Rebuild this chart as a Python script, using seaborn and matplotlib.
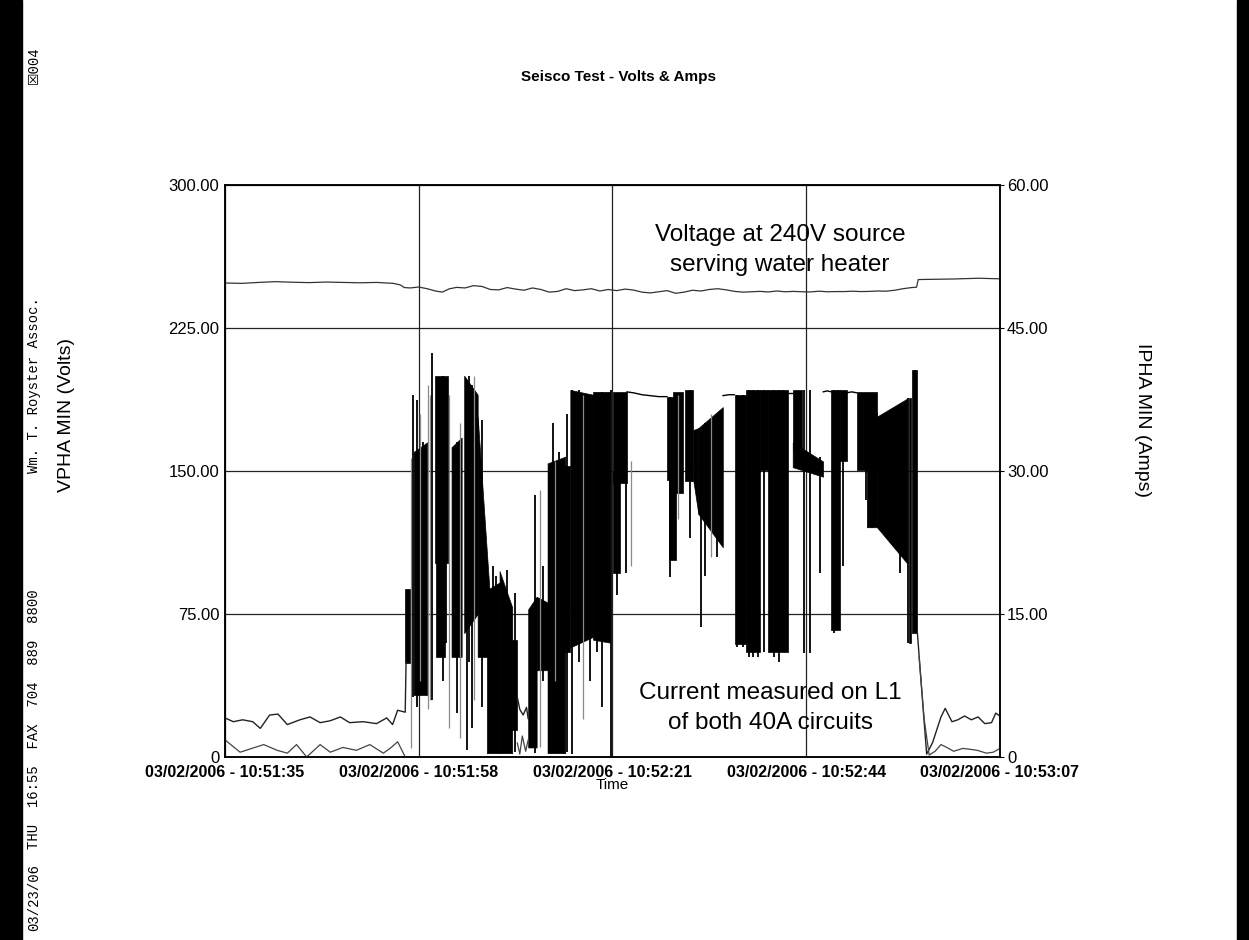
import numpy as np
import pandas as pd
import seaborn as sns
import matplotlib.pyplot as plt
from matplotlib.patches import Rectangle

# time axis: seconds after 03/02/2006 10:51:35
tick_sec = [0, 23, 46, 69, 92]
tick_labels = ["03/02/2006 - 10:51:35", "03/02/2006 - 10:51:58", "03/02/2006 - 10:52:21",
               "03/02/2006 - 10:52:44", "03/02/2006 - 10:53:07"]
volt_ticks = [0, 75, 150, 225, 300]
volt_tick_labels = ["0", "75.00", "150.00", "225.00", "300.00"]
amp_ticks = [0, 15, 30, 45, 60]
amp_tick_labels = ["0", "15.00", "30.00", "45.00", "60.00"]

# VPHA MIN (Volts)
volt_t = [0, 2, 4, 6, 8, 10, 12, 14, 16, 18, 20, 20.8, 21.3, 22.0, 23.0, 24.0, 25.0, 25.8,
          26.6, 27.5, 28.5, 29.5, 30.5, 31.5, 32.5, 33.5, 34.5, 35.5, 36.5, 37.5, 38.5, 39.5,
          40.5, 41.5, 42.5, 43.5, 44.5, 45.5, 46.5, 47.5, 48.5, 49.5, 50.5, 51.5, 52.5, 53.5,
          54.5, 55.5, 56.5, 57.5, 58.5, 59.5, 60.5, 61.5, 62.5, 63.5, 64.5, 65.5, 66.5, 67.5,
          68.5, 69.5, 70.5, 71.5, 72.5, 73.5, 74.5, 75.5, 76.5, 77.5, 78.5, 79.5, 80.5, 81.5,
          82.1, 82.3, 83.5, 85, 86.5, 88, 89.5, 91, 92]
volt_v = [248.6, 248.4, 248.9, 249.3, 249.0, 248.8, 249.1, 248.9, 248.7, 248.9, 248.4, 247.6,
          246.2, 246.0, 246.5, 245.6, 244.4, 243.8, 245.5, 246.3, 246.0, 247.2, 246.8, 245.2,
          245.0, 246.2, 245.4, 244.8, 246.0, 245.2, 243.8, 244.2, 245.6, 244.6, 245.0, 245.6,
          244.4, 245.2, 244.6, 245.4, 244.9, 243.8, 243.4, 244.0, 244.6, 243.2, 243.8, 244.8,
          244.4, 245.2, 245.6, 245.0, 244.2, 243.8, 244.0, 244.2, 243.9, 244.4, 244.0, 244.2,
          244.0, 243.9, 244.3, 244.0, 244.1, 244.1, 244.3, 244.1, 244.2, 244.4, 244.3, 244.8,
          245.6, 246.2, 246.4, 250.4, 250.5, 250.6, 250.7, 250.9, 251.1, 250.9, 250.8]

# IPHA MIN (Amps) - idle traces (upper and lower), by segment
idle_hi_t = [0, 1.0, 2.1, 3.3, 4.2, 5.3, 6.3, 7.4, 8.9, 10.1, 11.3, 12.5, 13.7, 14.8, 16.4,
             18.0, 19.2, 19.9, 20.5, 21.4, 21.5,
             34.7, 35.0, 35.4, 35.8, 36.0,
             82.2, 82.8, 83.3, 84.0, 85.0, 85.5, 86.3, 87.0, 87.8, 88.6, 89.4, 90.2, 91.0,
             91.5, 92.0]
idle_hi_a = [4.1, 3.7, 3.9, 3.7, 3.0, 4.4, 4.5, 3.4, 3.9, 4.2, 3.6, 3.8, 4.2, 3.6, 3.7,
             3.5, 4.1, 3.4, 4.9, 4.7, 10.0,
             6.3, 5.0, 4.4, 5.2, 4.0,
             13.0, 6.0, 0.3, 1.5, 4.2, 5.1, 3.7, 3.9, 4.3, 3.9, 4.2, 3.5, 3.6, 4.6, 4.3]
idle_hi_seg = [0] * 21 + [1] * 5 + [2] * 15

idle_lo_t = [0, 1.8, 3.2, 4.6, 6.2, 7.4, 8.5, 9.7, 11.3, 12.5, 14.0, 15.6, 17.2, 18.8, 19.6,
             20.5, 21.4,
             34.7, 35.0, 35.3, 35.7, 36.0,
             82.4, 83.0, 83.6, 84.3, 85.0, 85.7, 86.5, 87.6, 88.5, 89.3, 90.4, 91.2, 92.0]
idle_lo_a = [1.8, 0.5, 0.9, 1.3, 0.7, 0.4, 1.3, 0.0, 1.3, 0.5, 1.0, 0.7, 1.3, 0.4, 0.9,
             1.6, 0.0,
             1.5, 0.3, 2.2, 0.6, 1.8,
             10.5, 4.0, 0.2, 0.6, 1.3, 1.0, 0.6, 0.9, 0.8, 0.7, 0.4, 0.5, 0.9]
idle_lo_seg = [0] * 17 + [1] * 5 + [2] * 13

# loaded plateau around 38 A between bursts
plat_t = [47.7, 48.5, 49.5, 50.5, 51.5, 52.5, 59.1, 59.8, 60.5, 66.8, 67.4,
          71.0, 71.5, 72.0, 73.8, 74.4, 75.0]
plat_a = [38.3, 38.2, 38.0, 37.9, 37.8, 37.8, 37.9, 38.0, 38.0, 38.2, 38.2,
          38.3, 38.4, 38.3, 38.2, 38.3, 38.2]
plat_seg = [0] * 6 + [1] * 3 + [2] * 2 + [3] * 3 + [4] * 3

# dense switching bursts (envelope of the fast oscillation)
burst_t0 = [21.4, 22.4, 24.9, 25.1, 26.9, 28.4, 30.0, 31.1, 32.6, 34.1, 36.0, 37.0, 38.3,
            40.4, 41.0, 43.7, 46.1, 46.1, 52.5, 52.7, 53.2, 54.6, 55.6, 56.2, 60.5, 61.9,
            63.5, 64.5, 67.4, 67.4, 72.0, 73.0, 75.0, 76.2, 77.4, 81.2, 81.6]
burst_t1 = [22.0, 24.0, 26.5, 26.1, 28.1, 30.0, 31.4, 32.6, 34.1, 34.7, 37.0, 38.3, 40.4,
            41.0, 43.7, 45.7, 47.7, 46.9, 53.2, 53.5, 54.4, 55.6, 56.2, 59.1, 61.9, 63.5,
            64.5, 66.8, 68.5, 71.0, 73.0, 73.8, 77.4, 77.4, 81.0, 81.4, 82.1]
burst_lo0 = [9.9, 6.5, 20.3, 10.5, 10.5, 13.0, 10.5, 0.4, 0.4, 2.8, 1.0, 9.1, 0.4,
             11.0, 11.5, 12.3, 28.7, 19.3, 29.1, 20.7, 27.7, 29.0, 29.0, 25.5, 11.8, 11.0,
             30.1, 11.0, 32.2, 30.4, 13.3, 31.0, 30.1, 24.1, 24.1, 12.0, 13.0]
burst_lo1 = [9.9, 6.5, 20.3, 10.5, 10.5, 15.0, 10.5, 0.4, 0.4, 2.8, 1.0, 9.1, 0.4,
             11.0, 12.6, 12.0, 28.7, 19.3, 29.1, 20.7, 27.7, 29.0, 25.5, 22.0, 11.8, 11.0,
             30.1, 11.0, 32.2, 29.4, 13.3, 31.0, 30.1, 24.1, 20.3, 12.0, 13.0]
burst_hi0 = [17.6, 32.0, 40.0, 30.0, 32.5, 40.0, 35.7, 17.5, 19.5, 12.3, 15.5, 16.8, 30.8,
             30.5, 38.5, 38.3, 38.3, 30.0, 37.8, 30.0, 38.3, 38.5, 34.3, 34.5, 38.0, 38.5,
             38.5, 38.5, 38.5, 33.0, 38.5, 38.5, 38.3, 38.0, 35.7, 37.7, 40.6]
burst_hi1 = [17.6, 33.0, 40.0, 30.0, 33.5, 38.0, 17.5, 18.3, 15.7, 12.3, 16.8, 16.2, 31.5,
             30.5, 38.0, 38.3, 38.3, 30.0, 37.8, 30.0, 38.3, 38.5, 34.5, 36.7, 38.0, 38.5,
             38.5, 38.5, 38.5, 31.0, 38.5, 38.5, 38.3, 36.0, 37.6, 37.7, 40.6]

# single switching spikes
spike_t = [22.3, 22.8, 23.5, 24.6, 25.9, 26.3, 27.5, 28.7, 29.0, 29.3, 30.5, 31.8, 32.2,
           33.5, 34.4, 36.8, 37.8, 38.5, 38.9, 39.6, 40.0, 40.6, 41.2, 42.0, 43.3, 44.2,
           44.8, 45.8, 46.5, 47.6, 52.8, 55.2, 56.5, 57.0, 58.4, 60.8, 61.5, 62.2, 62.7,
           63.3, 64.0, 65.2, 65.8, 66.3, 68.7, 69.4, 70.6, 72.3, 72.8, 73.4, 76.1, 76.8,
           80.1, 81.1, 81.9]
spike_lo = [6.3, 5.2, 7.0, 6.0, 8.0, 12.0, 4.6, 0.7, 10.0, 3.0, 5.2, 0.5, 0.5,
            0.5, 0.5, 0.4, 8.0, 0.4, 3.0, 0.5, 1.0, 0.5, 0.3, 10.0, 8.0, 11.0,
            5.2, 0.0, 17.0, 19.3, 18.9, 23.0, 13.6, 19.0, 21.0, 11.5, 11.5, 10.5, 10.5,
            10.5, 11.0, 10.5, 10.0, 11.0, 10.9, 10.9, 19.3, 13.0, 13.3, 20.0, 27.0, 24.0,
            19.3, 12.0, 13.0]
spike_hi = [38.0, 37.4, 33.0, 42.4, 40.0, 38.0, 33.0, 38.0, 40.0, 39.0, 35.4, 20.0, 19.0,
            19.6, 17.2, 27.5, 20.0, 30.4, 35.0, 32.0, 31.0, 36.0, 38.5, 38.5, 38.0, 38.0,
            38.3, 38.5, 38.0, 28.7, 37.8, 38.5, 34.0, 35.0, 36.0, 38.0, 38.0, 38.5, 38.5,
            38.5, 38.5, 38.5, 38.5, 38.5, 38.5, 38.5, 31.5, 38.5, 38.5, 38.0, 38.0, 38.0,
            37.0, 37.7, 40.6]
faint_t = [22.1, 23.1, 24.1, 24.4, 26.6, 27.9, 29.6, 37.4, 39.2, 42.5, 48.2, 53.8, 57.7]
faint_lo = [0.9, 8.0, 5.0, 6.0, 3.0, 2.0, 6.0, 1.0, 8.0, 4.0, 20.0, 25.0, 21.0]
faint_hi = [31.4, 36.0, 39.0, 38.0, 38.0, 35.0, 40.0, 28.0, 31.0, 38.0, 31.0, 38.0, 36.0]

sns.set_style("white")
plt.rcParams['font.family'] = ['Liberation Sans', 'DejaVu Sans']
plt.rcParams['text.color'] = 'black'
plt.rcParams['axes.labelcolor'] = 'black'
plt.rcParams['xtick.color'] = 'black'
plt.rcParams['ytick.color'] = 'black'

fig = plt.figure(figsize=(12.49, 9.4), dpi=100)
ax = fig.add_axes([0.1801, 0.1947, 0.6205, 0.6085])
ax2 = ax.twinx()

sns.lineplot(x=volt_t, y=volt_v, ax=ax, color='#333333', linewidth=0.9)

idle_hi = pd.DataFrame({'t': idle_hi_t, 'amps': idle_hi_a, 'seg': idle_hi_seg})
idle_lo = pd.DataFrame({'t': idle_lo_t, 'amps': idle_lo_a, 'seg': idle_lo_seg})
plat = pd.DataFrame({'t': plat_t, 'amps': plat_a, 'seg': plat_seg})
sns.lineplot(data=idle_hi, x='t', y='amps', units='seg', estimator=None, sort=False,
             ax=ax2, color='#222222', linewidth=1.0)
sns.lineplot(data=idle_lo, x='t', y='amps', units='seg', estimator=None, sort=False,
             ax=ax2, color='#444444', linewidth=0.9)
sns.lineplot(data=plat, x='t', y='amps', units='seg', estimator=None, sort=False,
             ax=ax2, color='black', linewidth=1.0)

for i in range(len(burst_t0)):
    ax2.fill_between([burst_t0[i], burst_t1[i]], [burst_lo0[i], burst_lo1[i]],
                     [burst_hi0[i], burst_hi1[i]], color='black', linewidth=0.5)
ax2.vlines(faint_t, faint_lo, faint_hi, color='#8a8a8a', linewidth=0.9)
ax2.vlines(spike_t, spike_lo, spike_hi, color='black', linewidth=1.3)

ax.set_xlim(0, 92)
ax.set_ylim(0, 300)
ax2.set_ylim(0, 60)
ax.set_xticks(tick_sec, tick_labels, fontsize=11.5, fontweight='bold')
ax.set_yticks(volt_ticks, volt_tick_labels, fontsize=12)
ax2.set_yticks(amp_ticks, amp_tick_labels, fontsize=12)
ax.grid(True, color='#222222', linewidth=0.9)
ax.set_axisbelow(True)
ax2.grid(False)
for a in (ax, ax2):
    for s in a.spines.values():
        s.set_color('black')
        s.set_linewidth(1.1)
ax.tick_params(axis='x', length=4, color='black', pad=2)
ax.tick_params(axis='y', length=0, pad=4)
ax2.tick_params(axis='y', length=3, color='black', pad=2)

ax.set_xlabel('Time', fontsize=11)
ax.xaxis.set_label_coords(0.4994, -0.037)
ax.set_ylabel('VPHA MIN (Volts)', fontsize=14)
ax.yaxis.set_label_coords(-0.1935, 0.598)
ax2.set_ylabel('IPHA MIN (Amps)', fontsize=14, rotation=270, va='center')
ax2.yaxis.set_label_coords(1.1845, 0.589)

fig.text(0.4948, 0.918, 'Seisco Test - Volts & Amps', ha='center', va='center',
         fontsize=11, fontweight='bold')
fig.text(0.6245, 0.734, 'Voltage at 240V source\nserving water heater', ha='center',
         va='center', fontsize=17.5, linespacing=1.45)
fig.text(0.6165, 0.2468, 'Current measured on L1\nof both 40A circuits', ha='center',
         va='center', fontsize=17.5, linespacing=1.45)

# fax header strip along the left edge
fax = dict(rotation=90, ha='center', va='center', fontsize=10,
           family=['Liberation Mono', 'DejaVu Sans'])
fig.text(0.0272, 0.045, '03/23/06', **fax)
fig.text(0.0272, 0.235, 'THU  16:55  FAX  704  889  8800', **fax)
fig.text(0.0272, 0.590, 'Wm. T. Royster Assoc.', **fax)
fig.text(0.0272, 0.931, '\u2612004', **fax)

fig.patches.append(Rectangle((0, 0), 22 / 1249, 1, transform=fig.transFigure,
                             color='black', zorder=0))
fig.patches.append(Rectangle((1237 / 1249, 0), 12 / 1249, 1, transform=fig.transFigure,
                             color='black', zorder=0))

fig.savefig('out.png', dpi=100)
